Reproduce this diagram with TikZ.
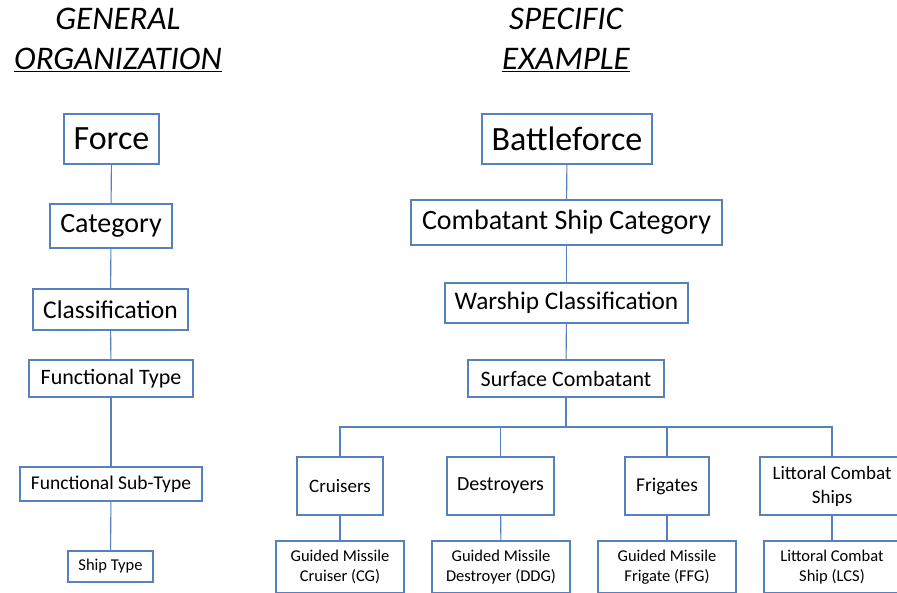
\documentclass[tikz,border=0pt]{standalone}
\usepackage{fontspec}
\setmainfont{Carlito}
\usepackage{xcolor}
\usetikzlibrary{arrows.meta, positioning}
\definecolor{boxblue}{RGB}{86,128,192}
\newcommand{\fs}[1]{\fontsize{#1}{#1}\selectfont}

\begin{document}
\begin{tikzpicture}[
    x=1pt, y=-1pt,
    every node/.style={draw=boxblue, line width=1.1pt, fill=white, align=center, inner sep=2pt},
    title/.style={draw=none, fill=none, font=\itshape\fontsize{33}{40}\selectfont},
    link/.style={draw=boxblue, line width=1.1pt}
]
    \useasboundingbox (0,0) rectangle (897,592);
    \clip (0,0) rectangle (897,592);

    % headings
    \node[title] (genh) at (118,40) {GENERAL\\\underline{ORGANIZATION}};
    \node[title] (spech) at (566,40) {SPECIFIC\\\underline{EXAMPLE}};

    % general organization
    \node[minimum width=95, minimum height=50, font=\fs{34}] (force) at (111.5,139) {Force};
    \node[minimum width=122, minimum height=44, font=\fs{28}] (cat) at (111,226) {Category};
    \node[minimum width=155, minimum height=41, font=\fs{25.5}] (class) at (110.5,309.5) {Classification};
    \node[minimum width=164, minimum height=37, font=\fs{22}] (ftype) at (111,378.5) {Functional Type};
    \node[minimum width=182, minimum height=34, font=\fs{19.5}] (fsub) at (111,484) {Functional Sub-Type};
    \node[minimum width=85, minimum height=31, font=\fs{16.5}] (ship) at (110.5,566.5) {Ship Type};

    % specific example
    \node[minimum width=170, minimum height=50, font=\fs{34}] (bforce) at (567,139) {Battleforce};
    \node[minimum width=311, minimum height=45, font=\fs{28}] (combat) at (566.5,222.5) {Combatant Ship Category};
    \node[minimum width=243, minimum height=40, font=\fs{25.3}] (warship) at (566.5,303) {Warship Classification};
    \node[minimum width=196, minimum height=37, font=\fs{22}] (surf) at (566,378.5) {Surface Combatant};

    \node[minimum width=86, minimum height=58, font=\fs{19}] (cru) at (340,486) {Cruisers};
    \node[minimum width=107, minimum height=58, font=\fs{20}] (des) at (500.5,486) {Destroyers};
    \node[minimum width=84, minimum height=58, font=\fs{19.5}] (fri) at (667,486) {Frigates};
    \node[minimum width=144, minimum height=58, font=\fontsize{19}{24}\selectfont] (lit) at (832,486) {Littoral Combat\\Ships};

    \node[minimum width=128, minimum height=52, font=\fontsize{16.5}{20}\selectfont] (cg) at (340,567) {Guided Missile\\Cruiser (CG)};
    \node[minimum width=138, minimum height=52, font=\fontsize{16.5}{20}\selectfont] (ddg) at (501,567) {Guided Missile\\Destroyer (DDG)};
    \node[minimum width=138, minimum height=52, font=\fontsize{16.5}{20}\selectfont] (ffg) at (667,567) {Guided Missile\\Frigate (FFG)};
    \node[minimum width=136, minimum height=52, font=\fontsize{16.5}{20}\selectfont] (lcs) at (832,567) {Littoral Combat\\Ship (LCS)};

    \coordinate (bus) at (566,427);

    \draw[link] (force) -- (cat);
    \draw[link] (cat) -- (class);
    \draw[link] (class) -- (ftype);
    \draw[link] (ftype) -- (fsub);
    \draw[link] (fsub) -- (ship);

    \draw[link] (bforce) -- (combat);
    \draw[link] (combat) -- (warship);
    \draw[link] (warship) -- (surf);
    \draw[link] (surf.south) -- (bus);
    \draw[link] (bus) -| (cru.north);
    \draw[link] (bus) -| (des.north);
    \draw[link] (bus) -| (fri.north);
    \draw[link] (bus) -| (lit.north);
    \draw[link] (cru) -- (cg);
    \draw[link] (des) -- (ddg);
    \draw[link] (fri) -- (ffg);
    \draw[link] (lit) -- (lcs);
\end{tikzpicture}
\end{document}
